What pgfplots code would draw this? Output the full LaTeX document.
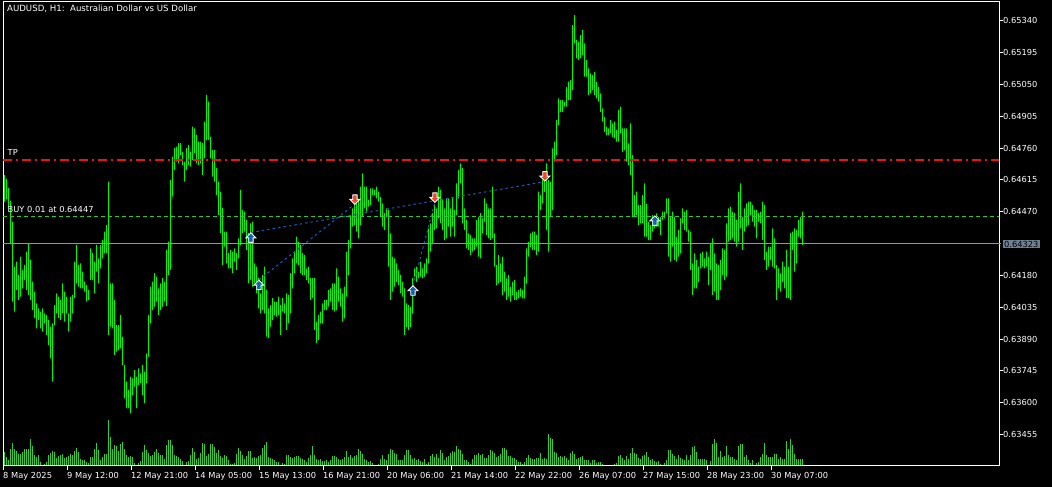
\documentclass[border=0pt]{standalone}
\usepackage{pgfplots}
\pgfplotsset{compat=1.18}
\usepackage{pgfplotstable}
\usepackage{fontspec}
\setmainfont{DejaVu Sans}

\definecolor{ohlcgreen}{rgb}{0,0.96,0}
\definecolor{volgreen}{RGB}{50,205,50}
\definecolor{tpred}{RGB}{235,20,20}
\definecolor{lvlgreen}{rgb}{0.16,0.80,0.16}
\definecolor{pgray}{RGB}{140,150,160}
\definecolor{pbox}{RGB}{110,128,146}
\definecolor{tradeb}{RGB}{20,95,190}
\definecolor{arrb}{RGB}{20,95,175}
\definecolor{arrr}{RGB}{235,75,45}

\newcommand{\lbl}{\fontsize{8.3}{10}\selectfont}

% every window shares the same box; bar k sits on one pixel column
\pgfplotsset{window/.style={
  at={(3pt,21pt)}, anchor=south west,
  width=996pt, height=464pt, scale only axis,
  xmin=-0.75, xmax=497.25}}

% arrows used by the terminal for deals
\pgfdeclareplotmark{buyarrow}{%
  \pgfpathmoveto{\pgfpoint{0pt}{5pt}}
  \pgfpathlineto{\pgfpoint{5pt}{0pt}}
  \pgfpathlineto{\pgfpoint{2.2pt}{0pt}}
  \pgfpathlineto{\pgfpoint{2.2pt}{-4.5pt}}
  \pgfpathlineto{\pgfpoint{-2.2pt}{-4.5pt}}
  \pgfpathlineto{\pgfpoint{-2.2pt}{0pt}}
  \pgfpathlineto{\pgfpoint{-5pt}{0pt}}
  \pgfpathclose
  \pgfusepathqfillstroke}
\pgfdeclareplotmark{sellarrow}{%
  \pgfpathmoveto{\pgfpoint{0pt}{-5pt}}
  \pgfpathlineto{\pgfpoint{5pt}{0pt}}
  \pgfpathlineto{\pgfpoint{2.2pt}{0pt}}
  \pgfpathlineto{\pgfpoint{2.2pt}{4.5pt}}
  \pgfpathlineto{\pgfpoint{-2.2pt}{4.5pt}}
  \pgfpathlineto{\pgfpoint{-2.2pt}{0pt}}
  \pgfpathlineto{\pgfpoint{-5pt}{0pt}}
  \pgfpathclose
  \pgfusepathqfillstroke}

% H1 bars: index, high, low
\pgfplotstableread[row sep=\\]{
k h l\\
0 0.64637 0.64516\\ 1 0.64619 0.64527\\ 2 0.64577 0.64493\\ 3 0.64520 0.64326\\ 4 0.64425 0.64061\\
5 0.64220 0.64015\\ 6 0.64243 0.64114\\ 7 0.64182 0.64068\\ 8 0.64265 0.64083\\ 9 0.64205 0.64121\\
10 0.64228 0.64159\\ 11 0.64288 0.64114\\ 12 0.64326 0.64091\\ 13 0.64250 0.64068\\ 14 0.64152 0.64023\\
15 0.64106 0.63985\\ 16 0.64053 0.63939\\ 17 0.64030 0.63977\\ 18 0.64015 0.63939\\ 19 0.64030 0.63924\\
20 0.64007 0.63962\\ 21 0.64000 0.63909\\ 22 0.63977 0.63863\\ 23 0.63947 0.63802\\ 24 0.63962 0.63696\\
25 0.64045 0.63954\\ 26 0.64098 0.64007\\ 27 0.64083 0.63985\\ 28 0.64068 0.63977\\ 29 0.64144 0.64007\\
30 0.64106 0.63969\\ 31 0.64083 0.64007\\ 32 0.64007 0.63924\\ 33 0.64083 0.63969\\ 34 0.64091 0.64007\\
35 0.64243 0.64076\\ 36 0.64319 0.64144\\ 37 0.64228 0.64129\\ 38 0.64235 0.64121\\ 39 0.64197 0.64121\\
40 0.64152 0.64106\\ 41 0.64136 0.64061\\ 42 0.64114 0.64068\\ 43 0.64303 0.64159\\ 44 0.64281 0.64159\\
45 0.64243 0.64098\\ 46 0.64319 0.64197\\ 47 0.64258 0.64144\\ 48 0.64319 0.64212\\ 49 0.64341 0.64258\\
50 0.64379 0.64281\\ 51 0.64410 0.64281\\ 52 0.64607 0.63909\\ 53 0.64144 0.63947\\ 54 0.64144 0.63939\\
55 0.64068 0.63818\\ 56 0.63954 0.63833\\ 57 0.63954 0.63840\\ 58 0.64000 0.63848\\ 59 0.63901 0.63772\\
60 0.63772 0.63620\\ 61 0.63696 0.63575\\ 62 0.63658 0.63575\\ 63 0.63719 0.63552\\ 64 0.63711 0.63635\\
65 0.63749 0.63673\\ 66 0.63719 0.63575\\ 67 0.63757 0.63681\\ 68 0.63734 0.63689\\ 69 0.63772 0.63635\\
70 0.63742 0.63598\\ 71 0.63825 0.63689\\ 72 0.64000 0.63810\\ 73 0.64129 0.63962\\ 74 0.64152 0.64023\\
75 0.64190 0.64038\\ 76 0.64174 0.64061\\ 77 0.64121 0.64000\\ 78 0.64144 0.64023\\ 79 0.64167 0.64038\\
80 0.64152 0.64061\\ 81 0.64296 0.64041\\ 82 0.64334 0.64182\\ 83 0.64615 0.64205\\ 84 0.64721 0.64539\\
85 0.64759 0.64660\\ 86 0.64766 0.64698\\ 87 0.64782 0.64690\\ 88 0.64782 0.64728\\ 89 0.64744 0.64683\\
90 0.64698 0.64607\\ 91 0.64759 0.64660\\ 92 0.64774 0.64683\\ 93 0.64744 0.64675\\ 94 0.64857 0.64706\\
95 0.64850 0.64736\\ 96 0.64820 0.64690\\ 97 0.64789 0.64683\\ 98 0.64789 0.64690\\ 99 0.64782 0.64637\\
100 0.64880 0.64713\\ 101 0.65002 0.64797\\ 102 0.64971 0.64797\\ 103 0.64812 0.64713\\ 104 0.64751 0.64630\\
105 0.64751 0.64607\\ 106 0.64668 0.64546\\ 107 0.64607 0.64455\\ 108 0.64561 0.64372\\ 109 0.64486 0.64228\\
110 0.64379 0.64311\\ 111 0.64379 0.64235\\ 112 0.64281 0.64212\\ 113 0.64296 0.64212\\ 114 0.64288 0.64190\\
115 0.64303 0.64243\\ 116 0.64281 0.64205\\ 117 0.64349 0.64258\\ 118 0.64569 0.64319\\ 119 0.64478 0.64372\\
120 0.64470 0.64379\\ 121 0.64432 0.64296\\ 122 0.64372 0.64144\\ 123 0.64417 0.64159\\ 124 0.64425 0.64129\\
125 0.64235 0.64144\\ 126 0.64220 0.64098\\ 127 0.64167 0.64030\\ 128 0.64098 0.64007\\ 129 0.64182 0.64023\\
130 0.64220 0.64007\\ 131 0.64114 0.63901\\ 132 0.64030 0.63894\\ 133 0.64045 0.63947\\ 134 0.64076 0.63977\\
135 0.64061 0.64000\\ 136 0.64061 0.63992\\ 137 0.64083 0.64000\\ 138 0.64045 0.63909\\ 139 0.64076 0.64015\\
140 0.64053 0.64007\\ 141 0.64098 0.63932\\ 142 0.64091 0.63962\\ 143 0.64190 0.64007\\ 144 0.64258 0.64121\\
145 0.64288 0.64190\\ 146 0.64357 0.64235\\ 147 0.64334 0.64228\\ 148 0.64319 0.64190\\ 149 0.64281 0.64182\\
150 0.64273 0.64182\\ 151 0.64212 0.64159\\ 152 0.64220 0.64144\\ 153 0.64167 0.64068\\ 154 0.64167 0.64076\\
155 0.64167 0.63932\\ 156 0.63969 0.63871\\ 157 0.64000 0.63886\\ 158 0.64015 0.63962\\ 159 0.64053 0.63962\\
160 0.64068 0.64023\\ 161 0.64068 0.64023\\ 162 0.64114 0.64038\\ 163 0.64121 0.64061\\ 164 0.64144 0.64023\\
165 0.64144 0.64015\\ 166 0.64212 0.64022\\ 167 0.64174 0.64060\\ 168 0.64121 0.64038\\ 169 0.64098 0.63969\\
170 0.64129 0.63984\\ 171 0.64288 0.64083\\ 172 0.64341 0.64182\\ 173 0.64455 0.64303\\ 174 0.64485 0.64402\\
175 0.64508 0.64409\\ 176 0.64508 0.64379\\ 177 0.64523 0.64349\\ 178 0.64584 0.64409\\ 179 0.64645 0.64447\\
180 0.64584 0.64485\\ 181 0.64584 0.64470\\ 182 0.64523 0.64493\\ 183 0.64576 0.64501\\ 184 0.64576 0.64546\\
185 0.64569 0.64546\\ 186 0.64584 0.64531\\ 187 0.64561 0.64516\\ 188 0.64538 0.64447\\ 189 0.64508 0.64402\\
190 0.64463 0.64387\\ 191 0.64485 0.64447\\ 192 0.64478 0.64220\\ 193 0.64371 0.64068\\ 194 0.64265 0.64106\\
195 0.64258 0.64129\\ 196 0.64235 0.64151\\ 197 0.64205 0.64136\\ 198 0.64182 0.64098\\ 199 0.64151 0.64083\\
200 0.64121 0.63909\\ 201 0.64053 0.63946\\ 202 0.64045 0.63931\\ 203 0.64038 0.63946\\ 204 0.64167 0.64007\\
205 0.64212 0.64174\\ 206 0.64220 0.64151\\ 207 0.64197 0.64167\\ 208 0.64242 0.64174\\ 209 0.64212 0.64167\\
210 0.64235 0.64174\\ 211 0.64258 0.64189\\ 212 0.64394 0.64235\\ 213 0.64417 0.64288\\ 214 0.64463 0.64326\\
215 0.64501 0.64387\\ 216 0.64485 0.64394\\ 217 0.64584 0.64440\\ 218 0.64569 0.64417\\ 219 0.64523 0.64387\\
220 0.64485 0.64341\\ 221 0.64531 0.64349\\ 222 0.64531 0.64402\\ 223 0.64485 0.64356\\ 224 0.64538 0.64402\\
225 0.64478 0.64356\\ 226 0.64599 0.64455\\ 227 0.64660 0.64531\\ 228 0.64690 0.64599\\ 229 0.64668 0.64417\\
230 0.64485 0.64387\\ 231 0.64432 0.64303\\ 232 0.64371 0.64296\\ 233 0.64364 0.64273\\ 234 0.64349 0.64288\\
235 0.64349 0.64296\\ 236 0.64432 0.64311\\ 237 0.64447 0.64265\\ 238 0.64463 0.64258\\ 239 0.64440 0.64371\\
240 0.64531 0.64425\\ 241 0.64508 0.64364\\ 242 0.64485 0.64349\\ 243 0.64485 0.64341\\ 244 0.64584 0.64349\\
245 0.64371 0.64220\\ 246 0.64227 0.64136\\ 247 0.64273 0.64144\\ 248 0.64235 0.64151\\ 249 0.64265 0.64090\\
250 0.64197 0.64106\\ 251 0.64166 0.64068\\ 252 0.64181 0.64083\\ 253 0.64128 0.64060\\ 254 0.64151 0.64090\\
255 0.64159 0.64068\\ 256 0.64106 0.64068\\ 257 0.64113 0.64075\\ 258 0.64121 0.64083\\ 259 0.64113 0.64075\\
260 0.64174 0.64075\\ 261 0.64303 0.64143\\ 262 0.64333 0.64265\\ 263 0.64371 0.64310\\ 264 0.64379 0.64295\\
265 0.64379 0.64295\\ 266 0.64364 0.64272\\ 267 0.64561 0.64288\\ 268 0.64546 0.64477\\ 269 0.64614 0.64508\\
270 0.64640 0.64560\\ 271 0.64690 0.64386\\ 272 0.64614 0.64288\\ 273 0.64606 0.64447\\ 274 0.64758 0.64477\\
275 0.64789 0.64698\\ 276 0.64887 0.64728\\ 277 0.64986 0.64865\\ 278 0.64978 0.64925\\ 279 0.64978 0.64925\\
280 0.64971 0.64948\\ 281 0.65039 0.64948\\ 282 0.65062 0.64978\\ 283 0.65069 0.64978\\ 284 0.65320 0.65024\\
285 0.65365 0.65236\\ 286 0.65252 0.65168\\ 287 0.65244 0.65161\\ 288 0.65274 0.65168\\ 289 0.65297 0.65183\\
290 0.65236 0.65085\\ 291 0.65161 0.65085\\ 292 0.65123 0.65001\\ 293 0.65100 0.65009\\ 294 0.65092 0.65024\\
295 0.65107 0.65001\\ 296 0.65062 0.64986\\ 297 0.65039 0.64971\\ 298 0.65009 0.64925\\ 299 0.64940 0.64880\\
300 0.64902 0.64834\\ 301 0.64857 0.64819\\ 302 0.64849 0.64819\\ 303 0.64887 0.64827\\ 304 0.64872 0.64811\\
305 0.64880 0.64804\\ 306 0.64842 0.64789\\ 307 0.64933 0.64789\\ 308 0.64948 0.64827\\ 309 0.64849 0.64743\\
310 0.64849 0.64751\\ 311 0.64849 0.64698\\ 312 0.64781 0.64682\\ 313 0.64872 0.64637\\ 314 0.64728 0.64447\\
315 0.64546 0.64447\\ 316 0.64561 0.64455\\ 317 0.64500 0.64409\\ 318 0.64500 0.64417\\ 319 0.64546 0.64417\\
320 0.64599 0.64356\\ 321 0.64505 0.64356\\ 322 0.64424 0.64341\\ 323 0.64409 0.64341\\ 324 0.64455 0.64379\\
325 0.64439 0.64394\\ 326 0.64462 0.64402\\ 327 0.64447 0.64402\\ 328 0.64447 0.64364\\ 329 0.64470 0.64432\\
330 0.64470 0.64440\\ 331 0.64531 0.64463\\ 332 0.64531 0.64265\\ 333 0.64447 0.64243\\ 334 0.64470 0.64311\\
335 0.64447 0.64250\\ 336 0.64356 0.64243\\ 337 0.64387 0.64265\\ 338 0.64440 0.64280\\ 339 0.64485 0.64417\\
340 0.64470 0.64387\\ 341 0.64478 0.64379\\ 342 0.64387 0.64334\\ 343 0.64379 0.64205\\ 344 0.64235 0.64091\\
345 0.64280 0.64121\\ 346 0.64250 0.64121\\ 347 0.64220 0.64151\\ 348 0.64280 0.64212\\ 349 0.64288 0.64220\\
350 0.64258 0.64212\\ 351 0.64288 0.64220\\ 352 0.64265 0.64136\\ 353 0.64326 0.64205\\ 354 0.64349 0.64091\\
355 0.64280 0.64106\\ 356 0.64235 0.64068\\ 357 0.64227 0.64068\\ 358 0.64250 0.64114\\ 359 0.64303 0.64182\\
360 0.64296 0.64159\\ 361 0.64417 0.64174\\ 362 0.64485 0.64334\\ 363 0.64493 0.64341\\ 364 0.64470 0.64349\\
365 0.64463 0.64334\\ 366 0.64432 0.64311\\ 367 0.64561 0.64334\\ 368 0.64599 0.64394\\ 369 0.64447 0.64296\\
370 0.64485 0.64379\\ 371 0.64508 0.64402\\ 372 0.64516 0.64410\\ 373 0.64516 0.64455\\ 374 0.64501 0.64425\\
375 0.64478 0.64402\\ 376 0.64478 0.64349\\ 377 0.64463 0.64425\\ 378 0.64470 0.64417\\ 379 0.64516 0.64341\\
380 0.64501 0.64250\\ 381 0.64288 0.64205\\ 382 0.64311 0.64220\\ 383 0.64311 0.64250\\ 384 0.64394 0.64220\\
385 0.64349 0.64212\\ 386 0.64227 0.64068\\ 387 0.64212 0.64121\\ 388 0.64189 0.64106\\ 389 0.64243 0.64151\\
390 0.64220 0.64121\\ 391 0.64296 0.64076\\ 392 0.64220 0.64076\\ 393 0.64372 0.64068\\ 394 0.64379 0.64296\\
395 0.64394 0.64197\\ 396 0.64387 0.64235\\ 397 0.64432 0.64356\\ 398 0.64447 0.64349\\ 399 0.64470 0.64318\\
}\bars

% tick volumes
\pgfplotstableread[row sep=\\]{
k v\\
0 140\\ 1 90\\ 2 63\\ 3 167\\ 4 230\\ 5 167\\ 6 147\\ 7 117\\ 8 117\\ 9 140\\
10 167\\ 11 167\\ 12 167\\ 13 267\\ 14 200\\ 15 113\\ 16 90\\ 17 107\\ 18 40\\ 19 13\\
20 23\\ 21 40\\ 22 113\\ 23 133\\ 24 150\\ 25 140\\ 26 80\\ 27 100\\ 28 113\\ 29 117\\
30 80\\ 31 90\\ 32 97\\ 33 117\\ 34 113\\ 35 147\\ 36 180\\ 37 140\\ 38 73\\ 39 63\\
40 57\\ 41 40\\ 42 33\\ 43 90\\ 44 90\\ 45 167\\ 46 230\\ 47 157\\ 48 57\\ 49 90\\
50 117\\ 51 117\\ 52 460\\ 53 290\\ 54 167\\ 55 207\\ 56 200\\ 57 150\\ 58 217\\ 59 240\\
60 173\\ 61 113\\ 62 90\\ 63 97\\ 64 90\\ 65 30\\ 66 13\\ 67 30\\ 68 47\\ 69 140\\
70 207\\ 71 157\\ 72 133\\ 73 100\\ 74 113\\ 75 140\\ 76 167\\ 77 133\\ 78 113\\ 79 113\\
80 67\\ 81 207\\ 82 257\\ 83 257\\ 84 207\\ 85 113\\ 86 97\\ 87 90\\ 88 73\\ 89 50\\
90 13\\ 91 40\\ 92 47\\ 93 113\\ 94 180\\ 95 140\\ 96 67\\ 97 83\\ 98 133\\ 99 227\\
100 217\\ 101 100\\ 102 123\\ 103 217\\ 104 217\\ 105 190\\ 106 133\\ 107 157\\ 108 100\\ 109 83\\
110 107\\ 111 97\\ 112 63\\ 113 23\\ 114 23\\ 115 30\\ 116 123\\ 117 180\\ 118 150\\ 119 107\\
120 67\\ 121 100\\ 122 147\\ 123 147\\ 124 83\\ 125 90\\ 126 80\\ 127 100\\ 128 107\\ 129 180\\
130 207\\ 131 240\\ 132 90\\ 133 80\\ 134 67\\ 135 63\\ 136 40\\ 137 40\\ 138 13\\ 139 33\\
140 23\\ 141 107\\ 142 107\\ 143 90\\ 144 83\\ 145 90\\ 146 100\\ 147 97\\ 148 83\\ 149 67\\
150 57\\ 151 40\\ 152 80\\ 153 107\\ 154 197\\ 155 107\\ 156 73\\ 157 57\\ 158 67\\ 159 47\\
160 47\\ 161 57\\ 162 40\\ 163 57\\ 164 97\\ 165 97\\ 166 90\\ 167 67\\ 168 57\\ 169 67\\
170 90\\ 171 147\\ 172 90\\ 173 113\\ 174 83\\ 175 100\\ 176 107\\ 177 167\\ 178 147\\ 179 123\\
180 67\\ 181 57\\ 182 40\\ 183 47\\ 184 30\\ 185 13\\ 186 13\\ 187 17\\ 188 73\\ 189 113\\
190 73\\ 191 57\\ 192 117\\ 193 173\\ 194 157\\ 195 133\\ 196 117\\ 197 63\\ 198 57\\ 199 57\\
200 107\\ 201 157\\ 202 157\\ 203 107\\ 204 73\\ 205 83\\ 206 63\\ 207 73\\ 208 47\\ 209 40\\
210 67\\ 211 23\\ 212 40\\ 213 100\\ 214 117\\ 215 90\\ 216 123\\ 217 80\\ 218 157\\ 219 133\\
220 63\\ 221 90\\ 222 100\\ 223 133\\ 224 147\\ 225 140\\ 226 197\\ 227 167\\ 228 157\\ 229 123\\
230 63\\ 231 57\\ 232 40\\ 233 23\\ 234 67\\ 235 107\\ 236 107\\ 237 133\\ 238 107\\ 239 123\\
240 83\\ 241 80\\ 242 113\\ 243 157\\ 244 147\\ 245 133\\ 246 90\\ 247 100\\ 248 123\\ 249 180\\
250 180\\ 251 157\\ 252 100\\ 253 97\\ 254 83\\ 255 83\\ 256 57\\ 257 40\\ 258 40\\ 259 23\\
260 40\\ 261 80\\ 262 107\\ 263 80\\ 264 67\\ 265 67\\ 266 80\\ 267 80\\ 268 130\\ 269 67\\
270 80\\ 271 73\\ 272 317\\ 273 283\\ 274 267\\ 275 140\\ 276 133\\ 277 90\\ 278 97\\ 279 90\\
280 100\\ 281 80\\ 282 63\\ 283 130\\ 284 150\\ 285 117\\ 286 67\\ 287 80\\ 288 90\\ 289 97\\
290 57\\ 291 57\\ 292 57\\ 293 33\\ 294 57\\ 295 57\\ 296 33\\ 297 40\\ 298 40\\ 299 23\\
300 13\\ 301 13\\ 302 13\\ 303 13\\ 304 7\\ 305 23\\ 306 33\\ 307 100\\ 308 107\\ 309 83\\
310 57\\ 311 100\\ 312 73\\ 313 130\\ 314 180\\ 315 133\\ 316 123\\ 317 80\\ 318 67\\ 319 100\\
320 107\\ 321 140\\ 322 90\\ 323 63\\ 324 67\\ 325 50\\ 326 40\\ 327 47\\ 328 23\\ 329 13\\
330 33\\ 331 63\\ 332 157\\ 333 157\\ 334 123\\ 335 100\\ 336 67\\ 337 113\\ 338 83\\ 339 67\\
340 57\\ 341 113\\ 342 57\\ 343 107\\ 344 190\\ 345 197\\ 346 140\\ 347 67\\ 348 67\\ 349 73\\
350 67\\ 351 57\\ 352 13\\ 353 47\\ 354 223\\ 355 267\\ 356 230\\ 357 90\\ 358 150\\ 359 90\\
360 100\\ 361 200\\ 362 113\\ 363 90\\ 364 90\\ 365 67\\ 366 57\\ 367 200\\ 368 217\\ 369 217\\
370 90\\ 371 113\\ 372 57\\ 373 33\\ 374 57\\ 375 13\\ 376 33\\ 377 40\\ 378 90\\ 379 117\\
380 233\\ 381 107\\ 382 90\\ 383 90\\ 384 90\\ 385 117\\ 386 123\\ 387 67\\ 388 90\\ 389 67\\
390 73\\ 391 247\\ 392 167\\ 393 267\\ 394 207\\ 395 123\\ 396 67\\ 397 73\\ 398 67\\ 399 67\\
}\vols

\begin{document}
\begin{tikzpicture}[x=1pt,y=1pt]
\fill[black] (0,0) rectangle (1052,487);

% bars: an empty bar up to the low, then the green range up to the high
\begin{axis}[window, hide axis,
  ymin=0.63312, ymax=0.65425,
  ybar stacked, bar width=1pt]
  \addplot[draw=none, fill=none] table[x=k, y=l] {\bars};
  \addplot[draw=none, fill=ohlcgreen] table[x=k, y expr=\thisrow{h}-\thisrow{l}] {\bars};
\end{axis}

% volumes, in their own scale at the foot of the window
\begin{axis}[window, hide axis, ymin=0, ymax=4640]
  \addplot[ycomb, color=volgreen, line width=1pt, mark=none] table[x=k, y=v] {\vols};
\end{axis}

% price scale, levels, deals
\begin{axis}[window,
  ymin=0.63312, ymax=0.65425,
  clip=false,
  axis line style={white, line width=1pt},
  tick style={white, line width=1pt},
  major tick length=4pt, tick align=outside,
  xtick pos=bottom, ytick pos=right,
  xtick={-0.75,31.25,63.25,95.25,127.25,159.25,191.25,223.25,255.25,287.25,319.25,351.25,383.25},
  xticklabels={8 May 2025,9 May 12:00,12 May 21:00,14 May 05:00,15 May 13:00,16 May 21:00,
    20 May 06:00,21 May 14:00,22 May 22:00,26 May 07:00,27 May 15:00,28 May 23:00,30 May 07:00},
  ytick={0.63455,0.63600,0.63745,0.63890,0.64035,0.64180,0.64470,0.64615,0.64760,0.64905,0.65050,0.65195,0.65340},
  yticklabels={0.63455,0.63600,0.63745,0.63890,0.64035,0.64180,0.64470,0.64615,0.64760,0.64905,0.65050,0.65195,0.65340},
  xticklabel style={anchor=north west, inner sep=0pt, yshift=-2pt, font=\lbl, text=white},
  yticklabel style={anchor=west, inner sep=0pt, font=\lbl, text=white},
  scaled y ticks=false,
]
  \addplot[color=pgray, line width=1pt] coordinates {(-0.75,0.64323) (498.25,0.64323)};
  \addplot[color=lvlgreen, line width=1pt, dash pattern=on 4pt off 3pt] coordinates {(-0.75,0.64447) (497.25,0.64447)};
  \addplot[color=tpred, line width=1.3pt, dash pattern=on 9pt off 4pt on 2pt off 4pt] coordinates {(-0.75,0.64706) (497.25,0.64706)};

  \addplot[color=tradeb, line width=1pt, dash pattern=on 2.5pt off 3pt] coordinates {(123.2,0.64375) (270.2,0.64607)};
  \addplot[color=tradeb, line width=1pt, dash pattern=on 2.5pt off 3pt] coordinates {(127.2,0.64159) (175.2,0.64505)};
  \addplot[color=tradeb, line width=1pt, dash pattern=on 2.5pt off 3pt] coordinates {(204.2,0.64132) (215.2,0.64514)};

  \addplot[only marks, mark=buyarrow, mark options={fill=arrb, draw=white, line width=0.9pt}]
    coordinates {(123.2,0.64351) (127.2,0.64136) (204.2,0.64110) (325.2,0.64428)};
  \addplot[only marks, mark=sellarrow, mark options={fill=arrr, draw=white, line width=0.9pt}]
    coordinates {(175.2,0.64526) (215.2,0.64535) (270.2,0.64632)};

  \node[anchor=south west, inner sep=0pt, font=\lbl, text=white] at (axis cs:1.5,0.64725) {TP};
  \node[anchor=south west, inner sep=0pt, font=\lbl, text=white] at (axis cs:1.5,0.64466) {BUY 0.01 at 0.64447};
  \node[anchor=west, fill=pbox, text=black, font=\lbl, inner xsep=1.5pt, inner ysep=1pt] at (axis cs:499,0.64323) {0.64323};
\end{axis}

\node[anchor=west, inner sep=0pt, font=\fontsize{8.6}{10}\selectfont, text=white] at (7,478) {AUDUSD, H1:\ \ Australian Dollar vs US Dollar};

\pgfresetboundingbox
\useasboundingbox (0,0) rectangle (1052,487);
\end{tikzpicture}
\end{document}
